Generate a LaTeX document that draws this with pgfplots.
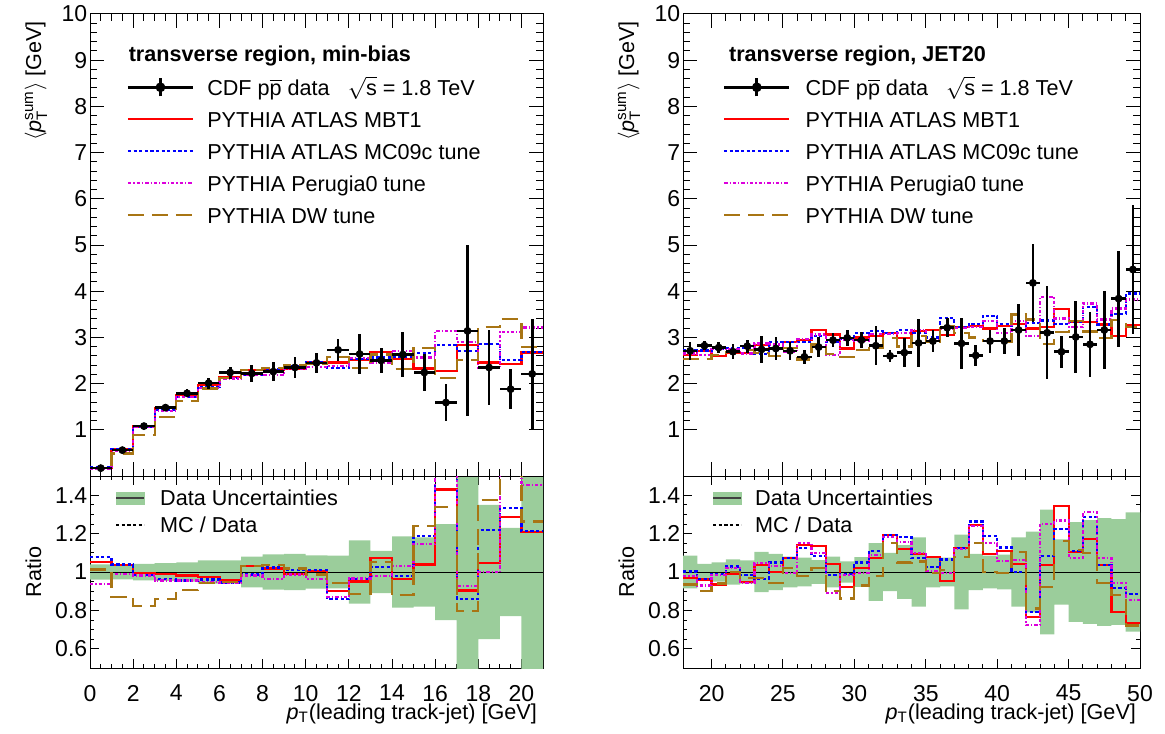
\documentclass[border=0pt]{standalone}
\usepackage{fontspec}
\setmainfont{Liberation Sans}
\usepackage{amsmath}
\usepackage{pgfplots}
\pgfplotsset{compat=1.18}
\usepackage{pgfplotstable}
\usepgfplotslibrary{fillbetween}
\definecolor{mcred}{RGB}{255,0,0}
\definecolor{mcblue}{RGB}{0,0,255}
\definecolor{mcmag}{RGB}{220,0,220}
\definecolor{mcbrown}{RGB}{168,117,20}
\definecolor{bandgreen}{RGB}{155,205,155}
\newcommand{\legfont}{\fontsize{10.8}{13}\selectfont}
\newcommand{\tickfont}{\fontsize{11.5}{13}\selectfont}

\pgfplotstableread{
x r b m w rr rb rm rw up lo
0 0.179 0.183 0.159 0.172 1.052 1.077 0.938 1.013 1.040 0.960
1 0.580 0.582 0.553 0.487 1.035 1.039 0.988 0.870 1.038 0.962
2 1.072 1.064 1.061 0.891 0.993 0.985 0.982 0.825 1.043 0.957
3 1.465 1.428 1.415 1.271 0.990 0.965 0.956 0.859 1.046 0.954
4 1.758 1.711 1.711 1.622 0.982 0.956 0.956 0.906 1.050 0.950
5 1.962 1.932 1.905 1.895 0.976 0.961 0.948 0.943 1.061 0.939
6 2.150 2.117 2.112 2.124 0.960 0.945 0.943 0.948 1.060 0.940
7 2.291 2.191 2.180 2.291 1.032 0.987 0.982 1.032 1.080 0.920
8 2.301 2.314 2.181 2.339 1.018 1.024 0.965 1.035 1.092 0.908
9 2.322 2.374 2.319 2.392 0.988 1.010 0.987 1.018 1.095 0.905
10 2.462 2.475 2.364 2.418 1.005 1.010 0.965 0.987 1.087 0.913
11 2.457 2.342 2.375 2.577 0.900 0.858 0.870 0.944 1.085 0.915
12 2.511 2.540 2.550 2.334 0.951 0.962 0.966 0.884 1.165 0.835
13 2.688 2.565 2.445 2.628 1.075 1.026 0.978 1.051 1.110 0.890
14 2.533 2.577 2.714 2.314 0.963 0.980 1.032 0.880 1.185 0.815
15 2.327 2.657 2.563 2.773 1.039 1.186 1.144 1.238 1.180 0.820
16 2.274 2.840 3.130 2.126 1.430 1.786 1.969 1.337 1.250 0.750
17 2.839 2.700 2.908 2.503 0.904 0.860 0.926 0.797 1.590 0.410
18 2.456 2.860 2.345 3.229 1.045 1.217 0.998 1.374 1.350 0.650
19 2.420 2.506 3.120 3.400 1.287 1.333 1.660 1.809 1.230 0.770
20 2.674 2.679 3.216 2.791 1.210 1.212 1.455 1.263 1.540 0.460
21 2.674 2.679 3.216 2.791 1.210 1.212 1.455 1.263 1.540 0.460
}\lefthist

\pgfplotstableread{
x y ex ey
0.5 0.17 0.5 0.007
1.5 0.56 0.5 0.021
2.5 1.08 0.5 0.046
3.5 1.48 0.5 0.068
4.5 1.79 0.5 0.09
5.5 2.01 0.5 0.12
6.5 2.24 0.5 0.13
7.5 2.22 0.5 0.18
8.5 2.26 0.5 0.21
9.5 2.35 0.5 0.22
10.5 2.45 0.5 0.21
11.5 2.73 0.5 0.23
12.5 2.64 0.5 0.44
13.5 2.50 0.5 0.275
14.5 2.63 0.5 0.49
15.5 2.24 0.5 0.40
16.5 1.59 0.5 0.40
17.5 3.14 0.5 1.85
18.5 2.35 0.5 0.82
19.5 1.88 0.5 0.43
20.5 2.21 0.5 1.19
}\leftdata

\pgfplotstableread{
x r b m w rr rb rm rw up lo
18 2.623 2.718 2.650 2.534 0.968 1.003 0.978 0.935 1.085 0.915
19 2.710 2.718 2.623 2.541 0.961 0.964 0.930 0.901 1.043 0.957
20 2.599 2.755 2.741 2.613 0.935 0.991 0.986 0.940 1.050 0.950
21 2.663 2.768 2.744 2.685 0.990 1.029 1.020 0.998 1.066 0.934
22 2.661 2.771 2.653 2.723 0.947 0.986 0.944 0.969 1.060 0.940
23 2.844 2.641 2.866 2.655 1.038 0.964 1.046 0.969 1.105 0.895
24 2.760 2.898 2.848 2.605 1.000 1.050 1.032 0.944 1.095 0.905
25 2.905 2.905 2.696 2.764 1.072 1.072 0.995 1.020 1.080 0.920
26 2.941 2.905 2.964 2.523 1.140 1.126 1.149 0.978 1.075 0.925
27 3.167 3.024 3.061 2.846 1.135 1.084 1.097 1.020 1.062 0.938
28 3.061 2.899 2.622 2.649 1.041 0.986 0.892 0.901 1.080 0.920
29 2.760 2.960 2.939 2.577 0.923 0.990 0.983 0.862 1.055 0.945
30 2.999 3.087 2.925 2.734 1.020 1.050 0.995 0.930 1.078 0.922
31 3.023 3.133 3.071 2.766 1.072 1.111 1.089 0.981 1.150 0.850
32 3.097 3.097 3.076 2.987 1.191 1.191 1.183 1.149 1.100 0.900
33 2.985 3.159 3.089 2.804 1.118 1.183 1.157 1.050 1.140 0.860
34 3.145 3.087 3.168 3.038 1.092 1.072 1.100 1.055 1.180 0.820
35 3.154 2.996 2.940 2.905 1.080 1.026 1.007 0.995 1.080 0.920
36 3.056 3.420 3.194 3.239 0.952 1.065 0.995 1.009 1.075 0.925
37 3.223 3.223 3.209 3.091 1.123 1.123 1.118 1.077 1.195 0.805
38 3.244 3.296 3.231 2.999 1.243 1.263 1.238 1.149 1.095 0.905
39 3.194 3.469 3.355 2.920 1.094 1.188 1.149 1.000 1.085 0.915
40 3.244 3.294 3.089 2.905 1.111 1.128 1.058 0.995 1.090 0.910
41 3.290 3.160 3.359 3.495 1.041 1.000 1.063 1.106 1.180 0.820
42 3.194 3.315 3.031 3.386 0.764 0.793 0.725 0.810 1.210 0.790
43 3.218 3.364 3.878 2.855 1.038 1.085 1.251 0.921 1.325 0.675
44 3.618 3.287 3.411 3.123 1.345 1.222 1.268 1.161 1.170 0.830
45 3.329 3.344 3.227 3.356 1.106 1.111 1.072 1.115 1.260 0.740
46 3.337 3.662 3.736 3.126 1.171 1.285 1.311 1.097 1.270 0.730
47 3.280 3.280 3.388 2.983 1.038 1.038 1.072 0.944 1.280 0.720
48 3.034 3.514 3.625 3.375 0.790 0.915 0.944 0.879 1.275 0.725
49 3.277 3.951 3.822 3.223 0.733 0.884 0.855 0.721 1.310 0.690
50 3.277 3.951 3.822 3.223 0.733 0.884 0.855 0.721 1.310 0.690
}\righthist

\pgfplotstableread{
x y ex ey
18.5 2.71 0.5 0.19
19.5 2.82 0.5 0.10
20.5 2.78 0.5 0.125
21.5 2.69 0.5 0.16
22.5 2.81 0.5 0.14
23.5 2.74 0.5 0.29
24.5 2.76 0.5 0.25
25.5 2.71 0.5 0.19
26.5 2.58 0.5 0.155
27.5 2.79 0.5 0.21
28.5 2.94 0.5 0.147
29.5 2.99 0.5 0.18
30.5 2.94 0.5 0.176
31.5 2.82 0.5 0.42
32.5 2.60 0.5 0.13
33.5 2.67 0.5 0.32
34.5 2.88 0.5 0.52
35.5 2.92 0.5 0.23
36.5 3.21 0.5 0.21
37.5 2.87 0.5 0.56
38.5 2.61 0.5 0.235
39.5 2.92 0.5 0.25
40.5 2.92 0.5 0.28
41.5 3.16 0.5 0.57
42.5 4.18 0.5 0.84
43.5 3.10 0.5 1.01
44.5 2.69 0.5 0.35
45.5 3.01 0.5 0.78
46.5 2.85 0.5 0.71
47.5 3.16 0.5 0.85
48.5 3.84 0.5 1.04
49.5 4.47 0.5 1.39
}\rightdata

\pgfplotsset{
  rootaxis/.style={scale only axis, anchor=north west,
    axis line style={line width=0.5pt}, tick style={black, line width=0.5pt},
    tick align=inside, xtick pos=both, ytick pos=both,
    tick label style={font=\tickfont},
    /pgf/number format/assume math mode=true,
    yticklabel style={inner sep=1.2pt}},
  toppanel/.style={rootaxis, height=231pt, ymin=0, ymax=10, ytick={1,2,...,10},
    minor y tick num=4, xticklabel=\empty, major tick length=7pt, minor tick length=3.5pt},
  ratiopanel/.style={rootaxis, height=96pt, ymin=0.5, ymax=1.5,
    ytick={0.6,0.8,1,1.2,1.4}, minor y tick num=3,
    major tick length=4.5pt, minor tick length=2.2pt,
    xticklabel style={yshift=-5pt}},
  redl/.style={mcred, line width=1.1pt},
  bluel/.style={mcblue, line width=1.1pt, dash pattern=on 1.6pt off 1.2pt},
  magl/.style={mcmag, line width=1.1pt, dash pattern=on 1.7pt off 1pt on 0.6pt off 1pt},
  brownl/.style={mcbrown, line width=1.1pt, dash pattern=on 8pt off 4pt},
  mylegend/.style={legend style={draw=none, fill=none, inner sep=0pt, outer sep=0pt,
    font=\legfont, nodes={inner sep=0pt, text height=7.7pt, text depth=0pt, anchor=west}},
    legend cell align=left},
  linelegend/.style={legend image code/.code={\draw (0pt,0pt) -- (32.5pt,0pt);}},
  shortlegend/.style={legend image code/.code={\draw (0pt,0pt) -- (14pt,0pt);}},
  datastyle/.style={black, only marks, mark=*, mark size=1.75pt, forget plot,
    error bars/.cd, x dir=both, x explicit, y dir=both, y explicit, error mark=none,
    error bar style={line width=1.3pt, black, solid}},
}
\newcommand{\datalegend}{\addlegendimage{black, line width=1.3pt, legend image code/.code={%
   \draw (0pt,0pt) -- (32.5pt,0pt);
   \draw[overlay] (16.25pt,-4.5pt) -- (16.25pt,4.5pt);
   \fill (16.25pt,0pt) circle (1.75pt);}}%
  \addlegendentry{CDF p$\overline{\hbox{p}}$ data\hspace{9pt}$\sqrt{\hbox{s}}$ = 1.8 TeV}%
  \addlegendimage{redl, linelegend}\addlegendentry{PYTHIA ATLAS MBT1}%
  \addlegendimage{bluel, linelegend}\addlegendentry{PYTHIA ATLAS MC09c tune}%
  \addlegendimage{magl, linelegend}\addlegendentry{PYTHIA Perugia0 tune}%
  \addlegendimage{brownl, linelegend}\addlegendentry{PYTHIA DW tune}}
\newcommand{\ratiolegend}{\addlegendimage{legend image code/.code={%
   \fill[bandgreen] (0pt,-3pt) rectangle (14pt,3pt);
   \draw[black!75, line width=0.6pt] (0pt,0pt) -- (14pt,0pt);}}%
  \addlegendentry{Data Uncertainties}%
  \addlegendimage{black, line width=1.1pt, dash pattern=on 1.6pt off 1.2pt, shortlegend}%
  \addlegendentry{MC / Data}}

\begin{document}
\begin{tikzpicture}
% ---------------- left top ----------------
\begin{axis}[toppanel, at={(45pt,-7pt)}, width=226.5pt, xmin=0, xmax=21,
  xtick={0,2,...,20}, minor x tick num=3, mylegend,
  legend style={at={(0.081,0.858)}, anchor=north west, row sep=8.3pt, column sep=6.5pt}]
\datalegend
\addplot[redl, const plot, forget plot] table[x=x,y=r]{\lefthist};
\addplot[bluel, const plot, forget plot] table[x=x,y=b]{\lefthist};
\addplot[magl, const plot, forget plot] table[x=x,y=m]{\lefthist};
\addplot[brownl, const plot, forget plot] table[x=x,y=w]{\lefthist};
\addplot[datastyle] table[x=x,y=y,x error=ex,y error=ey]{\leftdata};
\node[anchor=base west, font=\legfont\bfseries] at (axis description cs:0.070,0.8968) {transverse region, min-bias};
\end{axis}
% ---------------- left ratio ----------------
\begin{axis}[ratiopanel, at={(45pt,-238pt)}, width=226.5pt, xmin=0, xmax=21,
  xtick={0,2,...,20}, minor x tick num=3, mylegend,
  legend style={at={(0.0552,0.9255)}, anchor=north west, row sep=5.8pt, column sep=7.5pt}]
\ratiolegend
\addplot[name path=lup, draw=none, const plot, forget plot] table[x=x,y=up]{\lefthist};
\addplot[name path=llo, draw=none, const plot, forget plot] table[x=x,y=lo]{\lefthist};
\addplot[bandgreen, forget plot] fill between[of=lup and llo];
\addplot[black, line width=0.5pt, forget plot] coordinates {(0,1) (21,1)};
\addplot[redl, const plot, forget plot] table[x=x,y=rr]{\lefthist};
\addplot[bluel, const plot, forget plot] table[x=x,y=rb]{\lefthist};
\addplot[magl, const plot, forget plot] table[x=x,y=rm]{\lefthist};
\addplot[brownl, const plot, forget plot] table[x=x,y=rw]{\lefthist};
\end{axis}
% ---------------- right top ----------------
\begin{axis}[toppanel, at={(341.5pt,-7pt)}, width=228.5pt, xmin=18, xmax=50,
  xtick={20,25,...,50}, minor x tick num=4, mylegend,
  legend style={at={(0.0875,0.858)}, anchor=north west, row sep=8.3pt, column sep=7.5pt}]
\datalegend
\addplot[redl, const plot, forget plot] table[x=x,y=r]{\righthist};
\addplot[bluel, const plot, forget plot] table[x=x,y=b]{\righthist};
\addplot[magl, const plot, forget plot] table[x=x,y=m]{\righthist};
\addplot[brownl, const plot, forget plot] table[x=x,y=w]{\righthist};
\addplot[datastyle] table[x=x,y=y,x error=ex,y error=ey]{\rightdata};
\node[anchor=base west, font=\legfont\bfseries] at (axis description cs:0.0853,0.8968) {transverse region, JET20};
\end{axis}
% ---------------- right ratio ----------------
\begin{axis}[ratiopanel, at={(341.5pt,-238pt)}, width=228.5pt, xmin=18, xmax=50,
  xtick={20,25,...,50}, minor x tick num=4, mylegend,
  legend style={at={(0.0635,0.9255)}, anchor=north west, row sep=5.8pt, column sep=6.5pt}]
\ratiolegend
\addplot[name path=rup, draw=none, const plot, forget plot] table[x=x,y=up]{\righthist};
\addplot[name path=rlo, draw=none, const plot, forget plot] table[x=x,y=lo]{\righthist};
\addplot[bandgreen, forget plot] fill between[of=rup and rlo];
\addplot[black, line width=0.5pt, forget plot] coordinates {(18,1) (50,1)};
\addplot[redl, const plot, forget plot] table[x=x,y=rr]{\righthist};
\addplot[bluel, const plot, forget plot] table[x=x,y=rb]{\righthist};
\addplot[magl, const plot, forget plot] table[x=x,y=rm]{\righthist};
\addplot[brownl, const plot, forget plot] table[x=x,y=rw]{\righthist};
\end{axis}
% ---------------- axis titles ----------------
\node[rotate=90, anchor=base east, font=\legfont] at (20.5pt,-7pt) {$\langle$\textit{p}$^{\text{sum}}_{\text{T}}\rangle$ [GeV]};
\node[rotate=90, anchor=base east, font=\legfont] at (317pt,-7pt) {$\langle$\textit{p}$^{\text{sum}}_{\text{T}}\rangle$ [GeV]};
\node[rotate=90, anchor=base, font=\legfont] at (20.5pt,-286pt) {Ratio};
\node[rotate=90, anchor=base, font=\legfont] at (317pt,-286pt) {Ratio};
\node[anchor=base east, font=\legfont] at (272pt,-359.5pt) {\textit{p}$_{\text{T}}$(leading track-jet) [GeV]};
\node[anchor=base east, font=\legfont] at (571.5pt,-359.5pt) {\textit{p}$_{\text{T}}$(leading track-jet) [GeV]};
\pgfresetboundingbox
\useasboundingbox (0,0) rectangle (582.5pt,-366.5pt);
\end{tikzpicture}
\end{document}
